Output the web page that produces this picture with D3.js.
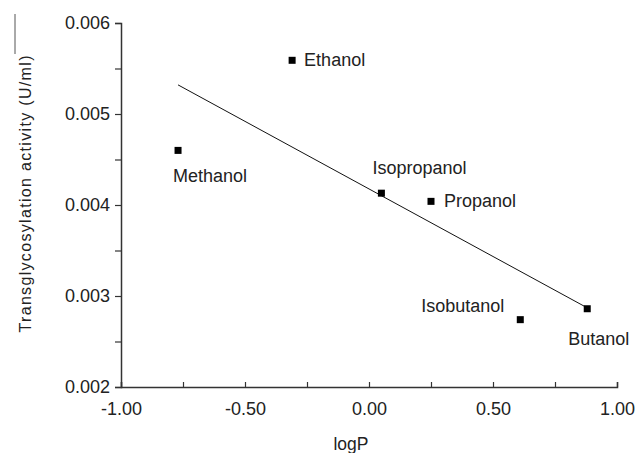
<!DOCTYPE html>
<html>
<head>
<meta charset="utf-8">
<script src="https://cdn.jsdelivr.net/npm/d3@7"></script>
<style>
  body { margin: 0; background: #fff; }
  text { font-family: Arial, "Liberation Sans", sans-serif; fill: #222; }
</style>
</head>
<body>
<div id="chart"></div>
<script>
// solvents, logP and measured activity
var solvents = ["Methanol", "Ethanol", "Isopropanol", "Propanol", "Isobutanol", "Butanol"];
var logP = [-0.77, -0.31, 0.05, 0.25, 0.61, 0.88];
var activity = [0.0046, 0.00559, 0.00413, 0.00404, 0.00274, 0.00286];

// trend line end points
var trendX = [-0.77, 0.88];
var trendY = [0.00532, 0.00287];

var xTicks = [-1, -0.75, -0.5, -0.25, 0, 0.25, 0.5, 0.75, 1];
var xLabels = ["-1.00", "", "-0.50", "", "0.00", "", "0.50", "", "1.00"];
var yTicks = [0.002, 0.0025, 0.003, 0.0035, 0.004, 0.0045, 0.005, 0.0055, 0.006];
var yLabels = ["0.002", "", "0.003", "", "0.004", "", "0.005", "", "0.006"];

var width = 637,
  height = 453,
  margin = { top: 23, right: 20, bottom: 66, left: 121 };

var svg = d3.select("#chart").append("svg")
  .attr("width", width)
  .attr("height", height);

var x = d3.scaleLinear()
  .domain([-1, 1])
  .range([margin.left, width - margin.right]);

var y = d3.scaleLinear()
  .domain([0.002, 0.006])
  .range([height - margin.bottom, margin.top]);

// label placement for each point (dx, dy from the marker, anchor)
var labelPos = {
  "Methanol": [-5, 32, "start"],
  "Ethanol": [12, 6, "start"],
  "Isopropanol": [-9, -19, "start"],
  "Propanol": [13, 6, "start"],
  "Isobutanol": [-99, -8, "start"],
  "Butanol": [-19, 36, "start"]
};

var points = solvents.map(function (d, i) {
  return { name: d, x: logP[i], y: activity[i] };
});

// X axis
var xAxis = d3.axisBottom(x)
  .tickValues(xTicks)
  .tickSize(-5)
  .tickPadding(15)
  .tickFormat(function (d, i) { return xLabels[i]; });

svg.append("g")
  .attr("transform", "translate(0," + y(0.002) + ")")
  .call(xAxis)
  .call(g => g.select(".domain").attr("stroke", "#333").attr("stroke-width", 1.5))
  .call(g => g.selectAll(".tick line").attr("stroke", "#333").attr("stroke-width", 1.2))
  .call(g => g.selectAll(".tick text").style("font-size", "18px").attr("fill", "#222"));

// Y axis
var yAxis = d3.axisLeft(y)
  .tickValues(yTicks)
  .tickSize(6)
  .tickPadding(5)
  .tickFormat(function (d, i) { return yLabels[i]; });

svg.append("g")
  .attr("transform", "translate(" + x(-1) + ",0)")
  .call(yAxis)
  .call(g => g.select(".domain").attr("stroke", "#333").attr("stroke-width", 1.5))
  .call(g => g.selectAll(".tick line").attr("stroke", "#333").attr("stroke-width", 1.2))
  .call(g => g.selectAll(".tick text").style("font-size", "18px").attr("fill", "#222"));

// axis titles
svg.append("text")
  .attr("x", 351)
  .attr("y", 450)
  .attr("text-anchor", "middle")
  .style("font-size", "17.5px")
  .text("logP");

svg.append("text")
  .attr("transform", "translate(31,194) rotate(-90)")
  .attr("text-anchor", "middle")
  .style("font-size", "16px")
  .attr("textLength", 277)
  .text("Transglycosylation activity (U/ml)");

// thin rule above the title, as in the scanned figure
svg.append("line")
  .attr("x1", 15).attr("x2", 15)
  .attr("y1", 14).attr("y2", 54)
  .attr("stroke", "#555")
  .attr("stroke-width", 1);

// trend line
var line = d3.line()
  .x(d => x(d[0]))
  .y(d => y(d[1]));

svg.append("path")
  .datum(trendX.map((v, i) => [v, trendY[i]]))
  .attr("fill", "none")
  .attr("stroke", "#111")
  .attr("stroke-width", 1)
  .attr("d", line);

// markers
var s = 7;
svg.selectAll("rect.pt")
  .data(points)
  .enter().append("rect")
  .attr("class", "pt")
  .attr("x", d => x(d.x) - s / 2)
  .attr("y", d => y(d.y) - s / 2)
  .attr("width", s)
  .attr("height", s)
  .attr("fill", "#000");

// labels
svg.selectAll("text.lbl")
  .data(points)
  .enter().append("text")
  .attr("class", "lbl")
  .attr("x", d => x(d.x) + labelPos[d.name][0])
  .attr("y", d => y(d.y) + labelPos[d.name][1])
  .attr("text-anchor", d => labelPos[d.name][2])
  .style("font-size", "18px")
  .text(d => d.name);
</script>
</body>
</html>
